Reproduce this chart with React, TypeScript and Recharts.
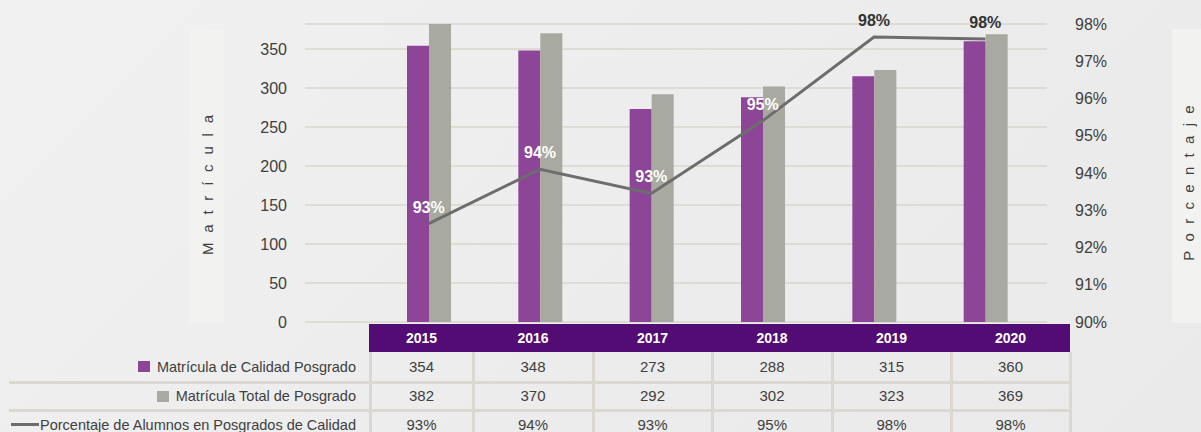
import React from "react";
import {
  ComposedChart,
  Bar,
  Line,
  XAxis,
  YAxis,
  CartesianGrid,
  LabelList,
} from "recharts";

const categories = ["2015", "2016", "2017", "2018", "2019", "2020"];
const calidad = [354, 348, 273, 288, 315, 360];
const total = [382, 370, 292, 302, 323, 369];
const porcentaje = [92.64, 94.1, 93.45, 95.4, 97.65, 97.6];
const leftTicks = [0, 50, 100, 150, 200, 250, 300, 350];
const rightTicks = [90, 91, 92, 93, 94, 95, 96, 97, 98];
const seriesNames = [
  "Matrícula de Calidad Posgrado",
  "Matrícula Total de Posgrado",
  "Porcentaje de Alumnos en Posgrados de Calidad",
];

const data = categories.map((c, i) => ({
  year: c,
  calidad: calidad[i],
  total: total[i],
  pct: porcentaje[i],
}));

const PURPLE = "#8d4697";
const GRAY = "#a8a9a0";
const LINE = "#6d6d6d";
const HEADER = "#520c73";
const SEP = "#dcd8d1";
const TEXT = "#404040";
const FONT = "'Liberation Sans', Arial, sans-serif";

const colEdges = [370, 473, 593, 712, 832, 951, 1070];
const rowTops = [352, 383, 411];
const rowHeights = [29, 26, 27];

const fmtPct = (v: number) => `${Math.round(v)}%`;

const PctLabel = (props: any) => {
  const { x, y, value, index } = props;
  return (
    <text
      x={x}
      y={y - 11}
      textAnchor="middle"
      fontFamily={FONT}
      fontWeight="bold"
      fontSize={16}
      fill={index >= 4 ? "#333333" : "#ffffff"}
    >
      {fmtPct(value)}
    </text>
  );
};

export default function App() {
  const rows = [
    calidad.map((v) => String(v)),
    total.map((v) => String(v)),
    porcentaje.map(fmtPct),
  ];
  return (
    <div
      style={{
        position: "absolute",
        left: 0,
        top: 0,
        width: 1201,
        height: 432,
        overflow: "hidden",
        background: "linear-gradient(135deg, #f1f1f1 0%, #ececec 60%, #eaeaea 100%)",
        fontFamily: FONT,
      }}
    >
      {/* axis title boxes */}
      <div
        style={{
          position: "absolute",
          left: 189,
          top: 30,
          width: 35,
          height: 293,
          background: "#f2f2f1",
        }}
      />
      <div
        style={{
          position: "absolute",
          left: 1172,
          top: 29,
          width: 40,
          height: 294,
          background: "#f2f2f1",
        }}
      />
      <div
        style={{
          position: "absolute",
          left: 207,
          top: 185,
          transform: "translate(-50%, -50%) rotate(-90deg)",
          whiteSpace: "nowrap",
          fontSize: 15,
          letterSpacing: "9.8px",
          color: TEXT,
          paddingLeft: "9.8px",
        }}
      >
        Matrícula
      </div>
      <div
        style={{
          position: "absolute",
          left: 1188,
          top: 183,
          transform: "translate(-50%, -50%) rotate(-90deg)",
          whiteSpace: "nowrap",
          fontSize: 15,
          letterSpacing: "9.3px",
          color: TEXT,
          paddingLeft: "9.3px",
        }}
      >
        Porcentaje
      </div>

      <ComposedChart
        width={1201}
        height={432}
        data={data}
        margin={{ top: 24, right: 94, bottom: 110, left: 245 }}
        barGap={0}
        barSize={22}
        style={{ position: "absolute", left: 0, top: 0 }}
      >
        <CartesianGrid
          yAxisId="left"
          vertical={false}
          stroke="#dad6ce"
          strokeWidth={1.5}
        />
        <XAxis
          dataKey="year"
          hide
          padding={{ left: 68, right: 6 }}
        />
        <YAxis
          yAxisId="left"
          orientation="left"
          width={60}
          domain={[0, 380]}
          ticks={leftTicks}
          axisLine={false}
          tickLine={false}
          tickSize={0}
          tickMargin={18}
          tick={{ fill: TEXT, fontSize: 16, fontFamily: FONT }}
        />
        <YAxis
          yAxisId="right"
          orientation="right"
          width={60}
          domain={[90, 98]}
          ticks={rightTicks}
          axisLine={false}
          tickLine={false}
          tickSize={0}
          tickMargin={28}
          tickFormatter={(v: number) => `${v}%`}
          tick={{ fill: TEXT, fontSize: 16, fontFamily: FONT }}
        />
        <Bar
          yAxisId="left"
          dataKey="calidad"
          name={seriesNames[0]}
          fill={PURPLE}
          isAnimationActive={false}
        />
        <Bar
          yAxisId="left"
          dataKey="total"
          name={seriesNames[1]}
          fill={GRAY}
          isAnimationActive={false}
        />
        <Line
          yAxisId="right"
          dataKey="pct"
          name={seriesNames[2]}
          stroke={LINE}
          strokeWidth={3}
          dot={false}
          activeDot={false}
          isAnimationActive={false}
        >
          <LabelList dataKey="pct" content={<PctLabel />} />
        </Line>
      </ComposedChart>

      {/* data table header */}
      <div
        style={{
          position: "absolute",
          left: colEdges[0] - 1,
          top: 324,
          width: colEdges[6] - colEdges[0] + 1,
          height: 28,
          background: HEADER,
        }}
      />
      {categories.map((c, i) => (
        <div
          key={c}
          style={{
            position: "absolute",
            left: colEdges[i],
            top: 324,
            width: colEdges[i + 1] - colEdges[i],
            height: 28,
            lineHeight: "28px",
            textAlign: "center",
            color: "#ffffff",
            fontWeight: "bold",
            fontSize: 14,
          }}
        >
          {c}
        </div>
      ))}

      {/* horizontal separators */}
      {[381, 409].map((y) => (
        <div
          key={y}
          style={{
            position: "absolute",
            left: 9,
            top: y,
            width: colEdges[6] - 9 + 1,
            height: 3,
            background: SEP,
          }}
        />
      ))}
      {/* vertical separators */}
      {colEdges.map((x) => (
        <div
          key={x}
          style={{
            position: "absolute",
            left: x - 1,
            top: 352,
            width: 3,
            height: 80,
            background: SEP,
          }}
        />
      ))}

      {/* values */}
      {rows.map((row, r) =>
        row.map((txt, i) => (
          <div
            key={`${r}-${i}`}
            style={{
              position: "absolute",
              left: colEdges[i],
              top: rowTops[r],
              width: colEdges[i + 1] - colEdges[i],
              height: rowHeights[r],
              lineHeight: `${rowHeights[r]}px`,
              textAlign: "center",
              color: TEXT,
              fontSize: 15,
            }}
          >
            {txt}
          </div>
        ))
      )}

      {/* legend labels */}
      {seriesNames.map((name, r) => (
        <div
          key={name}
          style={{
            position: "absolute",
            right: 1201 - 356,
            top: rowTops[r],
            height: rowHeights[r],
            display: "flex",
            alignItems: "center",
            whiteSpace: "nowrap",
            fontSize: 14.5,
            color: TEXT,
          }}
        >
          {r < 2 ? (
            <span
              style={{
                display: "inline-block",
                width: 12,
                height: 11,
                background: r === 0 ? PURPLE : GRAY,
                marginRight: 7,
              }}
            />
          ) : (
            <span
              style={{
                display: "inline-block",
                width: 28,
                height: 3,
                background: LINE,
                marginRight: 1,
              }}
            />
          )}
          {name}
        </div>
      ))}
    </div>
  );
}
